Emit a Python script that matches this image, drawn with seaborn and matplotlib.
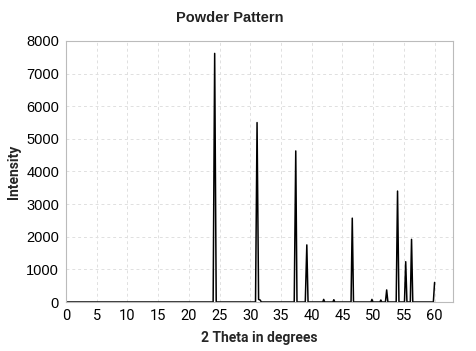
import matplotlib
matplotlib.use("Agg")
import matplotlib.pyplot as plt
import seaborn as sns
import pandas as pd

# profile points (2theta, intensity)
two_theta = [0.0,
             23.95, 24.2, 24.45,
             30.85, 31.1, 31.35, 31.6, 31.8,
             37.15, 37.4, 37.6,
             38.95, 39.2, 39.4,
             41.8, 41.95, 42.1,
             43.45, 43.6, 43.75,
             46.4, 46.6, 46.8,
             49.65, 49.8, 49.95,
             51.1, 51.25, 51.4,
             52.0, 52.2, 52.4,
             53.75, 53.97, 54.2,
             55.1, 55.3, 55.5,
             56.05, 56.25, 56.45,
             59.8, 60.0]
intensity = [0,
             0, 7620, 0,
             0, 5500, 80, 60, 0,
             0, 4630, 0,
             0, 1750, 0,
             0, 80, 0,
             0, 70, 0,
             0, 2570, 0,
             0, 80, 0,
             0, 60, 0,
             0, 370, 0,
             0, 3400, 0,
             0, 1235, 0,
             0, 1920, 0,
             0, 600]

x_ticks = list(range(0, 61, 5))
y_ticks = list(range(0, 8001, 1000))

df = pd.DataFrame({"two_theta": two_theta, "intensity": intensity})

sns.set_style("white")
plt.rcParams["font.family"] = ["Roboto", "DejaVu Sans"]

fig = plt.figure(figsize=(4.76, 3.51), dpi=100)
ax = fig.add_axes([0.1387, 0.1396, 0.813, 0.7436])

sns.lineplot(data=df, x="two_theta", y="intensity", sort=False, estimator=None,
             color="black", linewidth=1.1, ax=ax)

ax.set_xlim(0, 63)
ax.set_ylim(0, 8000)
ax.set_xticks(x_ticks)
ax.set_yticks(y_ticks)
ax.tick_params(length=3, width=0.8, color="#aaaaaa", labelcolor="black", pad=2)
ax.tick_params(axis="x", labelsize=10.5)
for lbl in ax.get_yticklabels():
    lbl.set_fontfamily(["Liberation Sans"])
    lbl.set_fontsize(10.5)
ax.grid(True, color="#e0e0e0", linestyle=(0, (3, 3)), linewidth=0.7)
for sp in ax.spines.values():
    sp.set_color("#bbbbbb")
    sp.set_linewidth(0.8)

ax.set_xlabel("2 Theta in degrees", fontsize=10, fontweight="bold", labelpad=6)
ax.set_ylabel("Intensity", fontsize=10, fontweight="bold", labelpad=4)
fig.text(0.483, 0.95, "Powder Pattern", ha="center", va="center",
         fontsize=10.5, fontweight="bold", color="#222222",
         family=["Liberation Sans"])

fig.savefig("out.png", dpi=100)
